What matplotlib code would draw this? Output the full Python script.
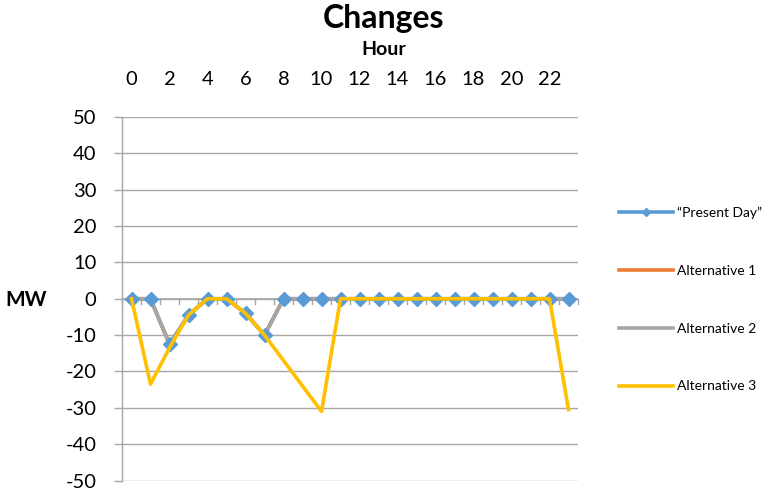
import matplotlib
matplotlib.use("Agg")
import matplotlib.pyplot as plt
from matplotlib.lines import Line2D

hours = list(range(24))
present_day = [0, 0, -12.5, -4.5, 0, 0, -4, -10, 0, 0, 0, 0,
               0, 0, 0, 0, 0, 0, 0, 0, 0, 0, 0, 0]
alternative_1 = [0, 0, -12.5, -4.5, 0, 0, -4, -10, 0, 0, 0, 0,
                 0, 0, 0, 0, 0, 0, 0, 0, 0, 0, 0, 0]
alternative_2 = [0, 0, -12.5, -4.5, 0, 0, -4, -10, 0, 0, 0, 0,
                 0, 0, 0, 0, 0, 0, 0, 0, 0, 0, 0, 0]
alternative_3 = [0, -23.5, -13.5, -4.5, 0, 0, -4, -10, -17, -24, -31, 0,
                 0, 0, 0, 0, 0, 0, 0, 0, 0, 0, 0, -30.5]
series_names = ["\u201cPresent Day\u201d", "Alternative 1", "Alternative 2", "Alternative 3"]
y_ticks = list(range(-50, 51, 10))
x_tick_labels = [str(h) for h in hours[::2]]

BLUE = "#5B9BD5"
ORANGE = "#ED7D31"
GRAY = "#A5A5A5"
GOLD = "#FFC000"
GRID = "#A6A6A6"
FONT = ["Lato", "DejaVu Sans"]

plt.rcParams["font.family"] = FONT

W, H = 768, 494
fig = plt.figure(figsize=(W / 100, H / 100), dpi=100)
ax = fig.add_axes([122 / W, 1 - 480.5 / H, 456 / W, 363.5 / H])

lw = 2.6
ax.plot(hours, present_day, color=BLUE, lw=lw, zorder=2, solid_joinstyle="round")
ax.plot(hours, alternative_1, color=ORANGE, lw=lw, zorder=3, solid_joinstyle="round")
ax.plot(hours, alternative_2, color=GRAY, lw=lw, zorder=4, solid_joinstyle="round")
ax.plot(hours, present_day, ls="none", marker="D", ms=7.5, color=BLUE,
        mec=BLUE, zorder=5, clip_on=False)
ax.plot(hours, alternative_3, color=GOLD, lw=lw, zorder=6, solid_joinstyle="round")

ax.set_xlim(-0.5, 23.5)
ax.set_ylim(-50, 50)

# value axis: gridlines, outward ticks, left spine only
ax.set_yticks(y_ticks)
ax.set_yticklabels([str(v) for v in y_ticks], fontsize=14.5)
ax.yaxis.grid(True, color=GRID, lw=1.0, zorder=0)
ax.tick_params(axis="y", length=6, color=GRID, width=1.0, pad=12.5, labelcolor="black")
for side in ("top", "right", "bottom"):
    ax.spines[side].set_visible(False)
ax.spines["left"].set_color(GRID)
ax.spines["left"].set_linewidth(1.0)

# category axis through zero, tick marks between categories
ax.axhline(0, color=GRID, lw=1.2, zorder=1)
for k in range(25):
    ax.plot([k - 0.5, k - 0.5], [0, -1.4], color=GRID, lw=1.0, zorder=1, clip_on=False)

# category labels above the plot
ax.xaxis.set_ticks_position("top")
ax.xaxis.set_label_position("top")
ax.set_xticks(hours[::2])
ax.set_xticklabels(x_tick_labels, fontsize=14.5)
ax.tick_params(axis="x", length=0, pad=21)

fig.text(0.5, 1 - 28 / H, "Changes", ha="center", va="baseline",
         fontsize=23, fontweight="bold")
fig.text(0.5, 1 - 55 / H, "Hour", ha="center", va="baseline",
         fontsize=14, fontweight="bold")
fig.text(26 / W, 1 - 305.5 / H, "MW", ha="center", va="baseline",
         fontsize=15, fontweight="bold")

handles = [
    Line2D([], [], color=BLUE, lw=lw, marker="D", ms=4, mec=BLUE),
    Line2D([], [], color=ORANGE, lw=lw),
    Line2D([], [], color=GRAY, lw=lw),
    Line2D([], [], color=GOLD, lw=lw),
]
fig.legend(handles, series_names, loc="center left",
           bbox_to_anchor=(619 / W, 1 - 299.5 / H), frameon=False,
           fontsize=10, handlelength=3.9, handletextpad=0.3,
           labelspacing=3.3, borderpad=0, borderaxespad=0)

fig.savefig("out.png", dpi=100)
